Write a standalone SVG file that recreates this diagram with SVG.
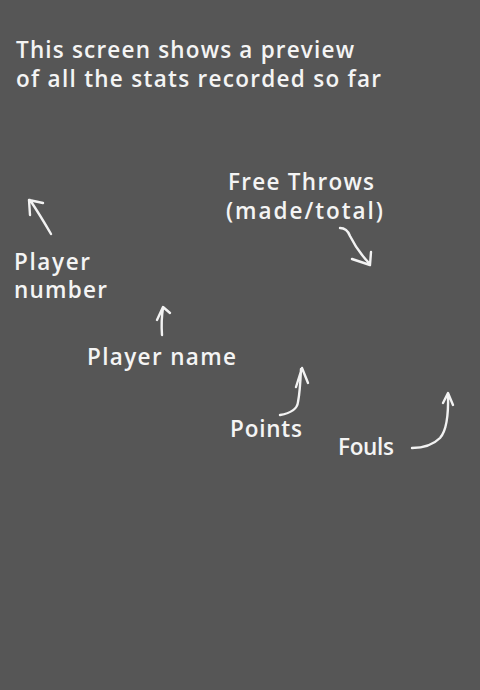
<svg xmlns="http://www.w3.org/2000/svg" width="480" height="690" viewBox="0 0 480 690">
<style>
text{font-family:"Open Sans","Noto Sans","DejaVu Sans",sans-serif;font-size:22.5px;font-weight:600;fill:#f4f4f4}
.c path{fill:none;stroke:#f2f2f2;stroke-width:2.4;stroke-linecap:round;stroke-linejoin:round}
</style>
<rect width="480" height="690" fill="#565656"/>
<g id="intro">
<text x="16" y="58" textLength="338">This screen shows a preview</text>
<text x="16" y="87" textLength="365">of all the stats recorded so far</text>
</g>
<g id="player-number">
<text x="14" y="270" textLength="76">Player</text>
<text x="14" y="298" textLength="93">number</text>
</g>
<g id="free-throws">
<text x="228" y="190" textLength="146">Free Throws</text>
<text x="226" y="219" textLength="157">(made/total)</text>
</g>
<g id="player-name">
<text x="87" y="365" textLength="149">Player name</text>
</g>
<g id="points">
<text x="230" y="437" textLength="72">Points</text>
</g>
<g id="fouls">
<text x="338" y="455" textLength="56">Fouls</text>
</g>
<g class="c" id="connectors">
<path d="M51,234 Q40,215 30,200 M30,215 L29,200 L43,203"/>
<path d="M340,228 Q347,228 350,236 Q358,252 370,264 M352,259 L370,265 L371,252"/>
<path d="M162,335 Q161,320 163,308 M157,320 L163,307 L170,313"/>
<path d="M280,415 Q297,412 298,402 Q300,392 301,369 M296,387 L302,368 L308,383"/>
<path d="M412,448 Q430,448 440,438 Q449,428 448,394 M443,403 L448,393 L453,405"/>
</g>
</svg>
